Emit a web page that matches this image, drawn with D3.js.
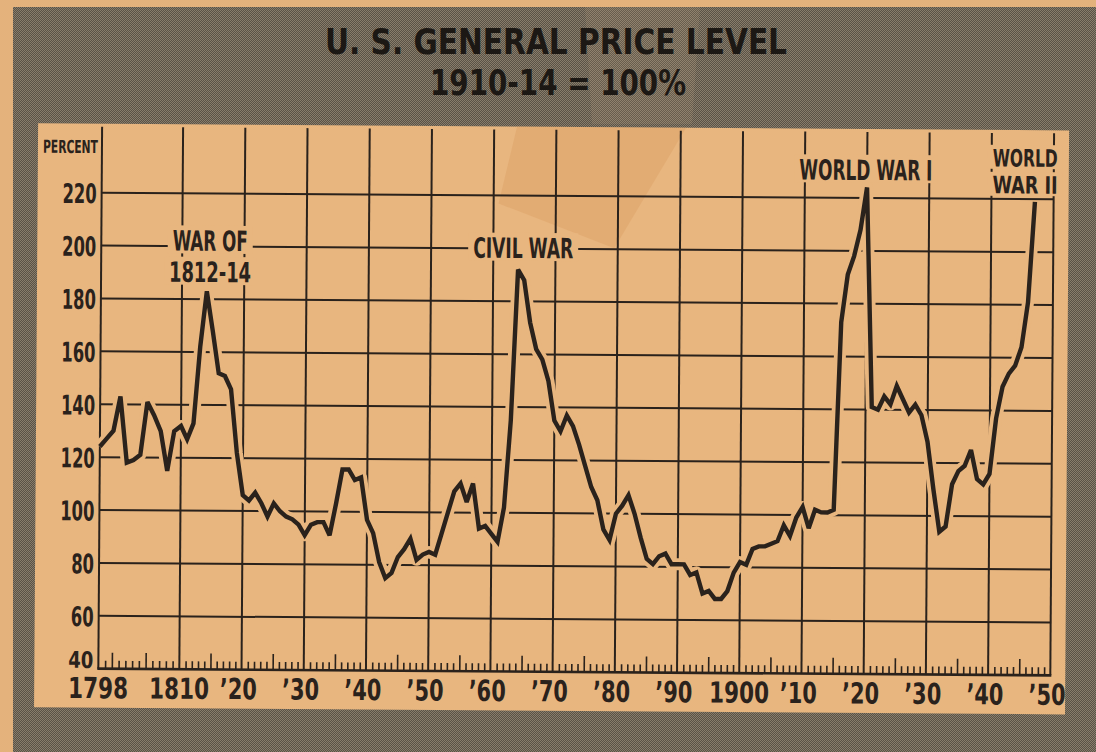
<!DOCTYPE html>
<html>
<head>
<meta charset="utf-8">
<script src="https://cdn.jsdelivr.net/npm/d3@7/dist/d3.min.js"></script>
<style>
  html, body { margin: 0; padding: 0; background: #e4b27c; }
  svg { display: block; }
  text {
    font-family: 'DejaVu Sans Condensed', 'Liberation Sans Narrow', 'DejaVu Sans', sans-serif;
    font-weight: bold;
    fill: #2a221c;
  }
</style>
</head>
<body>
<div id="chart"></div>
<script>
// 物価指数 1910-14 = 100（1798年から1947年まで、年ごと）
const firstYear = 1798;
const priceIndex = [
  124, 127, 130, 143, 118, 119, 121, 141, 136, 130, 115, 130,   // 1798-1809
  132, 127, 133, 162, 183, 168, 152, 151, 146, 122,             // 1810s
  106, 104, 107, 103, 98, 103, 100, 98, 97, 95,                 // 1820s
  91, 95, 96, 96, 91, 103, 116, 116, 112, 113,                  // 1830s
  97, 92, 81, 75, 77, 83, 86, 90, 82, 84,                       // 1840s
  85, 84, 92, 100, 108, 111, 104, 111, 94, 95,                  // 1850s
  92, 89, 102, 135, 192, 188, 172, 162, 158, 150,               // 1860s
  135, 131, 137, 133, 126, 118, 110, 105, 94, 90,               // 1870s
  100, 103, 107, 100, 91, 83, 81, 84, 85, 81,                   // 1880s
  81, 81, 77, 78, 70, 71, 68, 68, 71, 78,                       // 1890s
  82, 81, 87, 88, 88, 89, 90, 96, 92, 99,                       // 1900s
  103, 95, 102, 101, 101, 102, 173, 191, 198, 208,              // 1910s
  224, 141, 140, 145, 142, 149, 144, 139, 142, 138,             // 1920s
  128, 110, 94, 96, 112, 117, 119, 125, 114, 112,               // 1930s
  116, 137, 149, 154, 157, 164, 181, 219                        // 1940-47
];

// 目盛り
const yTicks = [40, 60, 80, 100, 120, 140, 160, 180, 200, 220];
const gridYears = [1798, 1810, 1820, 1830, 1840, 1850, 1860, 1870, 1880, 1890, 1900, 1910, 1920, 1930, 1940, 1950];
const gridLabels = ["1798", "1810", "’20", "’30", "’40", "’50", "’60", "’70", "’80", "’90", "1900", "’10", "’20", "’30", "’40", "’50"];

// 注記（年・値で位置を指定、同じ番号は同じ注記の行）
const noteLines  = ["WAR OF", "1812-14", "CIVIL WAR", "WORLD WAR I", "WORLD", "WAR II"];
const noteGroup  = [0, 0, 1, 2, 3, 3];
const noteYears  = [1814.5, 1814.5, 1864.8, 1919.8, 1945.4, 1945.4];
const noteValues = [198.3, 186.5, 196.4, 226.8, 232.3, 222.1];

const titleLines = ["U. S. GENERAL PRICE LEVEL", "1910-14 = 100%"];

const series = priceIndex.map((v, i) => ({ year: firstYear + i, value: v }));

// 見た目
const W = 1096, H = 752;
const ink = "#2a221c";
const paper = "#e8b67f";
const noteWidths = { "WAR OF": 75, "1812-14": 82, "CIVIL WAR": 100, "WORLD WAR I": 133, "WORLD": 65, "WAR II": 65 };
const noteSizes = [28, 28, 28, 28, 24, 24];

const x = d3.scaleLinear().domain([1798, 1810, 1950]).range([100, 181, 1052]);
const y = d3.scaleLinear().domain([40, 220]).range([672, 196]);
const gridTop = 130;

const svg = d3.select("#chart").append("svg")
    .attr("width", W)
    .attr("height", H);

// 網点の背景
const pat = svg.append("defs").append("pattern")
    .attr("id", "halftone")
    .attr("width", 2).attr("height", 2)
    .attr("patternUnits", "userSpaceOnUse");
pat.append("rect").attr("width", 2).attr("height", 2).attr("fill", "#5a5246");
pat.append("rect").attr("width", 1).attr("height", 1).attr("fill", "#887d6b");
pat.append("rect").attr("x", 1).attr("y", 1).attr("width", 1).attr("height", 1).attr("fill", "#887d6b");

svg.append("rect")
    .attr("x", 13).attr("y", 7)
    .attr("width", W - 13).attr("height", H - 7)
    .attr("fill", "url(#halftone)");

// タイトル帯のテープ跡
svg.append("polygon")
    .attr("points", "585,7 700,7 692,124 592,124")
    .attr("fill", "#cfae80")
    .attr("opacity", 0.12);

// タイトル
svg.selectAll("text.title")
    .data(titleLines)
    .join("text")
    .attr("class", "title")
    .attr("x", (d, i) => i === 0 ? 556 : 558)
    .attr("y", (d, i) => i === 0 ? 54 : 95)
    .attr("text-anchor", "middle")
    .attr("font-size", 36)
    .attr("textLength", (d, i) => i === 0 ? 462 : 256)
    .attr("lengthAdjust", "spacingAndGlyphs")
    .style("fill", "#1c1814")
    .text(d => d);

// 切り抜きが少し傾いている
const g = svg.append("g").attr("transform", "rotate(0.4 575 430)");

// 本体の紙
g.append("rect")
    .attr("x", 36).attr("y", 127)
    .attr("width", 1031).attr("height", 584)
    .attr("fill", paper);

// テープ
g.append("polygon")
    .attr("points", "515,127 684,127 613,248 497,204")
    .attr("fill", "#d9985a")
    .attr("opacity", 0.33);

// 横の罫線
g.selectAll("line.hgrid")
    .data(yTicks.filter(v => v > 40))
    .join("line")
    .attr("class", "hgrid")
    .attr("x1", x(1798)).attr("x2", x(1950))
    .attr("y1", d => y(d)).attr("y2", d => y(d))
    .attr("stroke", ink)
    .attr("stroke-width", 2);

// 縦の罫線
g.selectAll("line.vgrid")
    .data(gridYears)
    .join("line")
    .attr("class", "vgrid")
    .attr("x1", d => x(d)).attr("x2", d => x(d))
    .attr("y1", gridTop).attr("y2", y(40))
    .attr("stroke", ink)
    .attr("stroke-width", 2);

// 年ごとの目盛り
const allYears = d3.range(1799, 1950);
const midYears = allYears.filter(yr => yr % 5 === 0 && !gridYears.includes(yr));
const minorYears = allYears.filter(yr => yr % 5 !== 0);

g.append("g")
    .attr("transform", `translate(0,${y(40)})`)
    .call(d3.axisTop(x).tickValues(minorYears).tickSize(8).tickFormat(""))
    .call(a => a.select(".domain").remove())
    .call(a => a.selectAll("line").attr("stroke", ink).attr("stroke-width", 1.6));

g.append("g")
    .attr("transform", `translate(0,${y(40)})`)
    .call(d3.axisTop(x).tickValues(midYears).tickSize(16).tickFormat(""))
    .call(a => a.select(".domain").remove())
    .call(a => a.selectAll("line").attr("stroke", ink).attr("stroke-width", 1.6));

// 基線
g.append("line")
    .attr("x1", x(1798) - 1).attr("x2", x(1950) + 1)
    .attr("y1", y(40)).attr("y2", y(40))
    .attr("stroke", ink)
    .attr("stroke-width", 2.6);

// 折れ線（罫線を抜く白フチ付き）
const line = d3.line()
    .x(d => x(d.year))
    .y(d => y(d.value));

g.append("path")
    .datum(series)
    .attr("d", line)
    .attr("fill", "none")
    .attr("stroke", paper)
    .attr("stroke-width", 12)
    .attr("stroke-linejoin", "round");

g.append("path")
    .datum(series)
    .attr("d", line)
    .attr("fill", "none")
    .attr("stroke", ink)
    .attr("stroke-width", 4.4)
    .attr("stroke-linejoin", "miter")
    .attr("stroke-miterlimit", 3);

// 注記
const notes = noteLines.map((t, i) => ({
  text: t, group: noteGroup[i], year: noteYears[i], value: noteValues[i], size: noteSizes[i]
}));

g.selectAll("rect.notebg")
    .data(notes)
    .join("rect")
    .attr("class", "notebg")
    .attr("x", d => x(d.year) - noteWidths[d.text] / 2 - 5)
    .attr("y", d => y(d.value) - d.size * 0.9)
    .attr("width", d => noteWidths[d.text] + 10)
    .attr("height", d => d.size)
    .attr("fill", paper);

g.selectAll("text.note")
    .data(notes)
    .join("text")
    .attr("class", "note")
    .attr("x", d => x(d.year))
    .attr("y", d => y(d.value))
    .attr("text-anchor", "middle")
    .attr("font-size", d => d.size)
    .attr("textLength", d => noteWidths[d.text])
    .attr("lengthAdjust", "spacingAndGlyphs")
    .text(d => d.text);

// 縦軸ラベル
const yAxis = g.append("g")
    .attr("transform", `translate(${x(1798)},0)`)
    .call(d3.axisLeft(y).tickValues(yTicks).tickSize(0).tickPadding(5).tickFormat(d3.format("d")))
    .call(a => a.select(".domain").remove());

yAxis.selectAll("text")
    .style("font-size", d => d === 40 ? "23px" : "27px")
    .attr("dy", d => d === 40 ? "-0.05em" : "0.37em")
    .attr("textLength", d => String(d).length * (d === 40 ? 12.5 : 11.4))
    .attr("lengthAdjust", "spacingAndGlyphs");

g.append("text")
    .attr("x", 96)
    .attr("y", 156.5)
    .attr("text-anchor", "end")
    .attr("font-size", 18)
    .attr("textLength", 55)
    .attr("lengthAdjust", "spacingAndGlyphs")
    .text("PERCENT");

// 横軸ラベル
g.selectAll("text.xlab")
    .data(gridYears)
    .join("text")
    .attr("class", "xlab")
    .attr("x", (d, i) => gridLabels[i].startsWith("’") ? x(d) - 3 : x(d))
    .attr("y", y(40) + 29.5)
    .attr("text-anchor", "middle")
    .attr("font-size", 29)
    .attr("textLength", (d, i) => gridLabels[i].startsWith("’") ? 37 : 60)
    .attr("lengthAdjust", "spacingAndGlyphs")
    .text((d, i) => gridLabels[i]);
</script>
</body>
</html>
